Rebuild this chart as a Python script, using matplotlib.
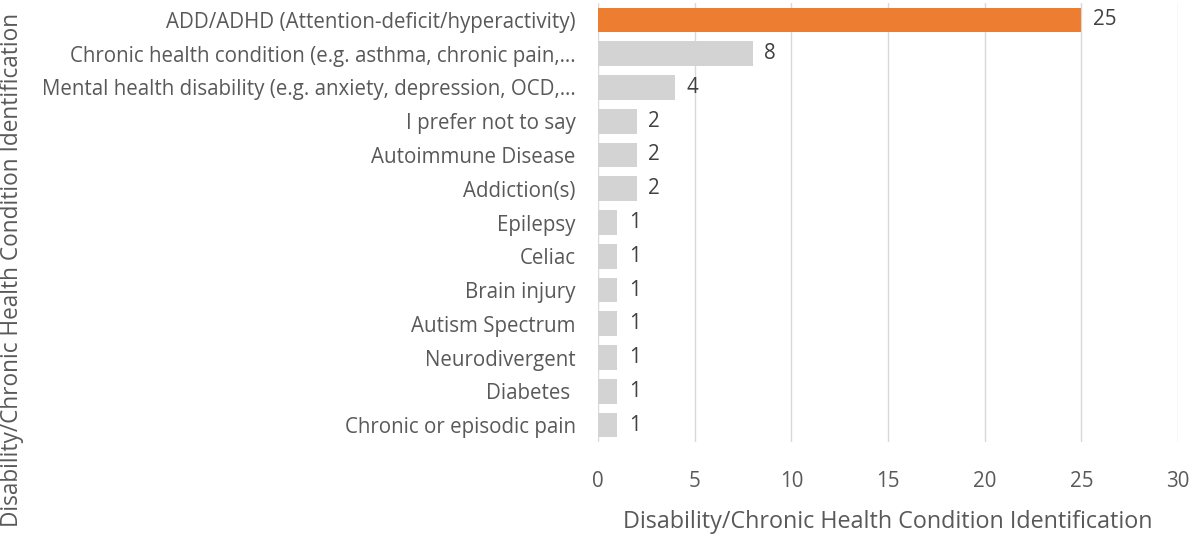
import matplotlib
matplotlib.use("Agg")
import matplotlib.pyplot as plt

# data (top to bottom as shown)
categories = [
    "ADD/ADHD (Attention-deficit/hyperactivity)",
    "Chronic health condition (e.g. asthma, chronic pain,…",
    "Mental health disability (e.g. anxiety, depression, OCD,…",
    "I prefer not to say",
    "Autoimmune Disease",
    "Addiction(s)",
    "Epilepsy",
    "Celiac",
    "Brain injury",
    "Autism Spectrum",
    "Neurodivergent",
    "Diabetes ",
    "Chronic or episodic pain",
]
counts = [25, 8, 4, 2, 2, 2, 1, 1, 1, 1, 1, 1, 1]
x_ticks = [0, 5, 10, 15, 20, 25, 30]
axis_title = "Disability/Chronic Health Condition Identification"

plt.rcParams['font.family'] = ['Open Sans', 'DejaVu Sans']

W, H = 1195, 545
fig = plt.figure(figsize=(W / 100, H / 100), dpi=100)
ax = fig.add_axes([598 / W, 1 - 442 / H, (1178 - 598) / W, (442 - 3) / H])

n = len(categories)
ypos = list(range(n))
colors = ['#ED7D31'] + ['#D3D3D3'] * (n - 1)
ax.barh(ypos, counts, height=0.73, color=colors, zorder=3)
ax.set_ylim(n - 0.5, -0.5)
ax.set_xlim(0, 30)

ax.set_yticks(ypos)
ax.set_yticklabels(categories, fontsize=14.8, color='#595959')
ax.set_xticks(x_ticks)
ax.set_xticklabels([str(t) for t in x_ticks], fontsize=14.8, color='#595959')
ax.tick_params(axis='both', length=0)
ax.tick_params(axis='y', pad=16)
ax.tick_params(axis='x', pad=21)

ax.grid(axis='x', color='#D9D9D9', linewidth=1, zorder=0)
for s in ax.spines.values():
    s.set_visible(False)

for y, v in zip(ypos, counts):
    ax.text(v + 0.6, y, str(v), va='center', ha='left', fontsize=14.8, color='#404040')

ax.set_xlabel(axis_title, fontsize=16.8, color='#595959', labelpad=13)
fig.text(12 / W, 1 - 270 / H, axis_title, rotation=90, ha='center', va='center',
         fontsize=16.3, color='#595959')

fig.savefig("out.png", dpi=100)
